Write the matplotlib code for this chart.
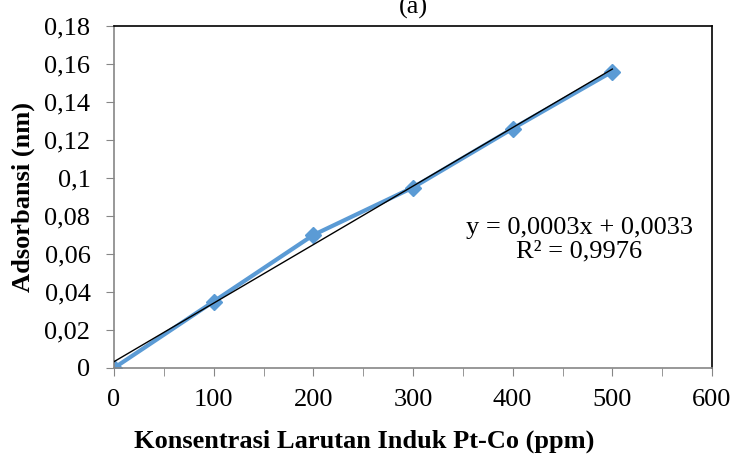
import numpy as np
import matplotlib.pyplot as plt
from matplotlib.ticker import FuncFormatter, MultipleLocator

plt.rcParams['font.family'] = ['Liberation Serif', 'DejaVu Serif']

# concentration (ppm) vs absorbance
konsentrasi = [0, 100, 200, 300, 400, 500]
adsorbansi = [0.0, 0.035, 0.070, 0.095, 0.126, 0.156]
x_ticks = [0, 100, 200, 300, 400, 500, 600]
y_ticks = [0, 0.02, 0.04, 0.06, 0.08, 0.10, 0.12, 0.14, 0.16, 0.18]

fig = plt.figure(figsize=(7.34, 4.59), dpi=100)
ax = fig.add_axes([114 / 734, 1 - 368 / 459, 598 / 734, 342 / 459])

ax.plot(konsentrasi, adsorbansi, color='#5b9bd5', lw=3, marker='D',
        markersize=8.5, zorder=2)

# linear trendline
slope, intercept = np.polyfit(konsentrasi, adsorbansi, 1)
xt = np.array([konsentrasi[0], konsentrasi[-1]])
ax.plot(xt, slope * xt + intercept, color='black', lw=1, zorder=3)

ax.set_xlim(0, 600)
ax.set_ylim(0, 0.18)
ax.set_xticks(x_ticks)
ax.xaxis.set_minor_locator(MultipleLocator(50))
ax.set_yticks(y_ticks)


def comma(v, pos):
    s = ('%.2f' % v).rstrip('0').rstrip('.')
    return s.replace('.', ',')


ax.yaxis.set_major_formatter(FuncFormatter(comma))
ax.tick_params(axis='both', which='both', direction='out', length=6,
               color='#868686', labelsize=19, pad=4)
ax.tick_params(axis='x', pad=9)
ax.tick_params(axis='y', pad=11)

ax.spines['left'].set_color('#868686')
ax.spines['bottom'].set_color('#868686')
for s in ['top', 'right']:
    ax.spines[s].set_color('black')
for s in ax.spines.values():
    s.set_linewidth(1.2)

ax.text(0.778, 0.375, 'y = 0,0003x + 0,0033\nR² = 0,9976',
        transform=ax.transAxes, ha='center', va='center', fontsize=19,
        linespacing=1.05)

fig.text(23 / 734, 1 - 197 / 459, 'Adsorbansi (nm)', rotation=90,
         ha='center', va='center', fontsize=19, fontweight='bold')
fig.text(364 / 734, 1 - 441 / 459, 'Konsentrasi Larutan Induk Pt-Co (ppm)',
         ha='center', va='center', fontsize=19, fontweight='bold')
fig.text(413 / 734, 1 - 14 / 459, '(a)', ha='center', va='baseline',
         fontsize=19)

fig.savefig('out.png', dpi=100)
